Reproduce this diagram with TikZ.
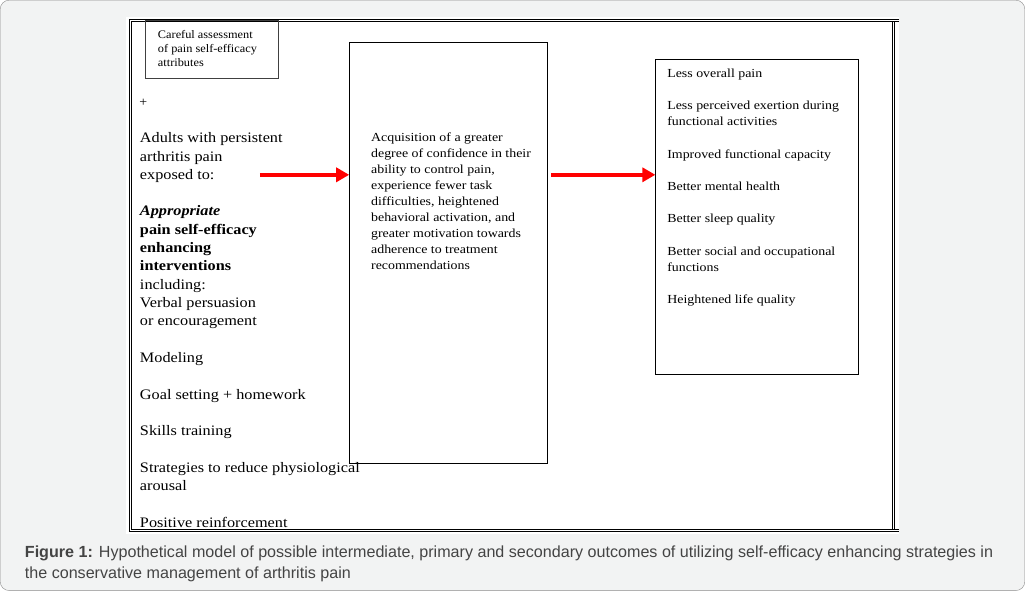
\documentclass[tikz,border=0pt]{standalone}
\usepackage{fontspec}
\setmainfont{Liberation Serif}
\newfontfamily\capfont{Liberation Sans}
\newfontfamily\wordfont[FakeStretch=1.13]{Liberation Serif}
\newfontfamily\notefont[FakeStretch=1.07]{Liberation Serif}
\newfontfamily\listfont[FakeStretch=1.12]{Liberation Serif}
\usetikzlibrary{arrows.meta, positioning}
\definecolor{panelgray}{HTML}{F2F3F3}
\definecolor{panelline}{HTML}{8C8C8C}
\definecolor{captext}{HTML}{444444}
\definecolor{arrowred}{HTML}{FF0000}

\begin{document}
\begin{tikzpicture}[x=1pt, y=-1pt,
            box/.style     ={rectangle, draw=black, line width=0.9pt, inner sep=0pt, anchor=north west},
            notetext/.style={align=left, inner sep=0pt, anchor=north west,
                             font=\notefont\fontsize{11.5}{14}\selectfont},
            listtext/.style={align=left, inner sep=0pt, anchor=north west,
                             font=\listfont\fontsize{14.5}{18.3}\selectfont},
            bodytext/.style={align=left, inner sep=0pt, anchor=north west,
                             font=\wordfont\fontsize{12.3}{16.1}\selectfont},
            frameline/.style={line width=0.8pt},
            arrow/.style   ={-{Triangle[length=13pt, width=14pt]}, draw=arrowred, line width=3.5pt}
        ]
        % panel and page
        \draw[panelline, fill=panelgray, rounded corners=9pt] (0.5,0.5) rectangle (1024.5,590.5);
        \fill[white] (126,17) rectangle (899,534);

        % left column
        \node[listtext] (inputs) at (140,129.9) {\strut Adults with persistent\\
            arthritis pain\\
            exposed to:\\[18.3pt]
            \textbf{\textit{Appropriate}}\\
            \textbf{pain self-efficacy}\\
            \textbf{enhancing}\\
            \textbf{interventions}\\
            including:\\
            Verbal persuasion\\
            or encouragement\\[18.3pt]
            Modeling\\[18.3pt]
            Goal setting + homework\\[18.3pt]
            Skills training\\[18.3pt]
            Strategies to reduce physiological\\
            arousal\\[18.3pt]
            Positive reinforcement};

        % double frame
        \draw[frameline] (899,19.3) -- (129.3,19.3) -- (129.3,531) -- (899,531);
        \draw[frameline] (899,21.3) -- (131.3,21.3) -- (131.3,529) -- (899,529);
        \draw[frameline] (892.3,21.3) -- (892.3,529);
        \draw[frameline] (894,21.3) -- (894,529);

        % boxes
        \node[box, draw=black!75, minimum width=133pt, minimum height=58.3pt] (assess) at (145.3,20) {};
        \node[notetext] (assesstext) at ([xshift=12.7pt, yshift=-8.5pt]assess.north west)
            {\strut Careful assessment\\ of pain self-efficacy\\ attributes};
        \node[font=\notefont\fontsize{13}{14}\selectfont, inner sep=0pt] (plus) at (143.5,103) {+};

        \node[box, minimum width=198pt, minimum height=420pt] (gain) at (349.3,42.7) {};
        \node[bodytext] (gaintext) at ([xshift=21.7pt, yshift=-87.1pt]gain.north west)
            {\strut Acquisition of a greater\\
            degree of confidence in their\\
            ability to control pain,\\
            experience fewer task\\
            difficulties, heightened\\
            behavioral activation, and\\
            greater motivation towards\\
            adherence to treatment\\
            recommendations};

        \node[box, minimum width=202pt, minimum height=314.7pt] (outcomes) at (655.3,59.3) {};
        \node[bodytext] (outcometext) at ([xshift=11.7pt, yshift=-7pt]outcomes.north west)
            {\strut Less overall pain\\[16.2pt]
            Less perceived exertion during\\
            functional activities\\[16.2pt]
            Improved functional capacity\\[16.2pt]
            Better mental health\\[16.2pt]
            Better sleep quality\\[16.2pt]
            Better social and occupational\\
            functions\\[16.2pt]
            Heightened life quality};

        % arrows
        \coordinate (arrowtail) at (260,175);
        \draw[arrow] (arrowtail) -- (arrowtail -| gain.west);
        \draw[arrow] ([xshift=3pt]gain.east |- arrowtail) -- (outcomes.west |- arrowtail);

        % caption
        \node[align=left, inner sep=0pt, anchor=north west, text=captext,
              font=\capfont\fontsize{16.1}{20.5}\selectfont] (caption) at (25,546)
            {\textbf{Figure 1:} Hypothetical model of possible intermediate, primary and secondary outcomes of utilizing self-efficacy enhancing strategies in\\
            the conservative management of arthritis pain};
        \end{tikzpicture}
\end{document}
